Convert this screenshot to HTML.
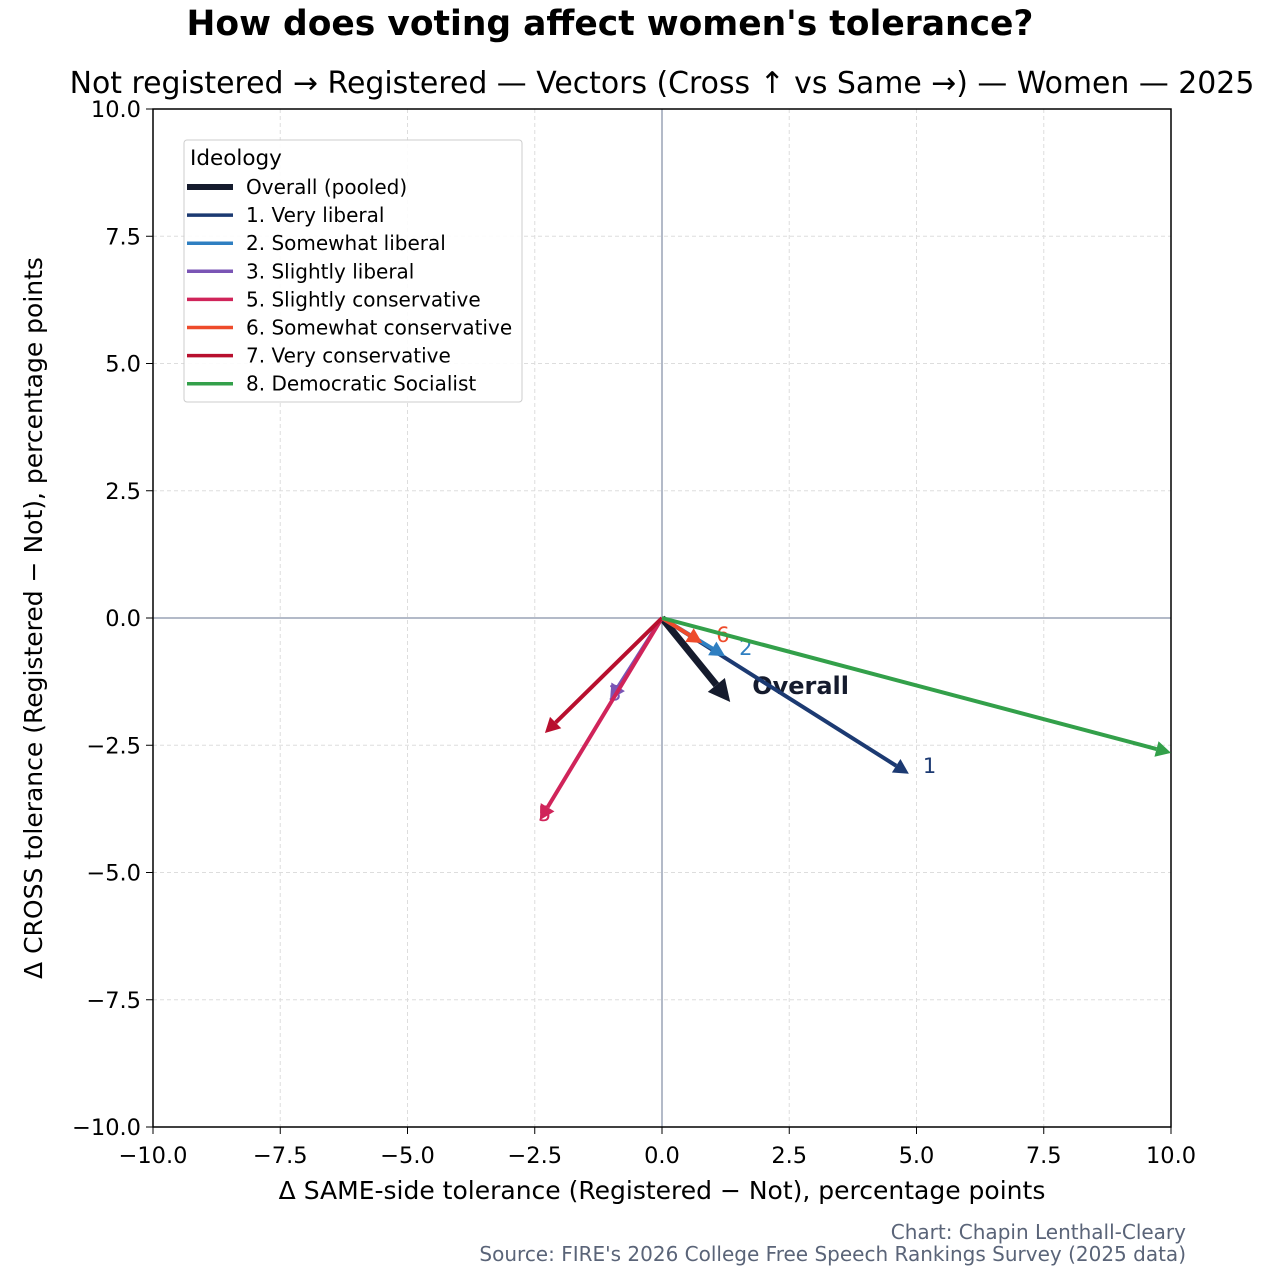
<!DOCTYPE html>
<html><head><meta charset="utf-8"><style>
body{margin:0;background:#fff;}
svg text{font-family:"DejaVu Sans","Liberation Sans",sans-serif;}
</style></head><body>
<svg id="c" width="1262" height="1278" xmlns="http://www.w3.org/2000/svg">
<text x="610" y="35" text-anchor="middle" font-size="34.5" font-weight="bold" fill="#000">How does voting affect women's tolerance?</text>
<text x="662" y="93" text-anchor="middle" font-size="29.9" fill="#000">Not registered → Registered — Vectors (Cross ↑ vs Same →) — Women — 2025</text>
<g id="grid"></g><g id="axes"></g><g id="marks"></g><g id="legend"></g>
<text x="662" y="1199" text-anchor="middle" font-size="25">Δ SAME-side tolerance (Registered − Not), percentage points</text>
<text transform="translate(42,618) rotate(-90)" text-anchor="middle" font-size="25">Δ CROSS tolerance (Registered − Not), percentage points</text>
<text x="1186" y="1239" text-anchor="end" font-size="20" fill="#5a6478">Chart: Chapin Lenthall-Cleary</text>
<text x="1186" y="1261" text-anchor="end" font-size="20" fill="#5a6478">Source: FIRE's 2026 College Free Speech Rankings Survey (2025 data)</text>
</svg>
<script>
const names=["Overall (pooled)","1. Very liberal","2. Somewhat liberal","3. Slightly liberal","5. Slightly conservative","6. Somewhat conservative","7. Very conservative","8. Democratic Socialist"];
const labels=["Overall","1","2","3","5","6","7","8"];
const dx=[1.34,4.85,1.24,-1.02,-2.4,0.79,-2.3,10.0];
const dy=[-1.65,-3.06,-0.75,-1.6,-3.97,-0.49,-2.26,-2.65];
const colors=["#151b2d","#1c3a72","#2f7fc1","#7a55b5","#d0245a","#ee4b2b","#b80f2e","#33a04a"];
const ticks=[-10,-7.5,-5,-2.5,0,2.5,5,7.5,10];
const ns="http://www.w3.org/2000/svg";
const L=153,R=1171,T=109,B=1127;
const X=v=>L+(v+10)/20*(R-L), Y=v=>B-(v+10)/20*(B-T);
function mk(p,t,a){const e=document.createElementNS(ns,t);for(const k in a)e.setAttribute(k,a[k]);p.appendChild(e);return e;}
const g=document.getElementById('grid'),ax=document.getElementById('axes'),m=document.getElementById('marks'),lg=document.getElementById('legend');
ticks.forEach(t=>{
 let l=mk(g,'line',{x1:X(t),x2:X(t),y1:T,y2:B,stroke:'#ddd','stroke-dasharray':'4,3'});
 
 l=mk(g,'line',{x1:L,x2:R,y1:Y(t),y2:Y(t),stroke:'#ddd','stroke-dasharray':'4,3'});
 
 let s=t.toFixed(1).replace('-','−');
 let tx=mk(ax,'text',{x:X(t),y:B+36,'text-anchor':'middle','font-size':22.5});tx.textContent=s;
 
 mk(ax,'line',{x1:X(t),x2:X(t),y1:B,y2:B+7,stroke:'#000'});
 tx=mk(ax,'text',{x:L-12,y:Y(t)+8,'text-anchor':'end','font-size':22.5});tx.textContent=s;
 
 mk(ax,'line',{x1:L-7,x2:L,y1:Y(t),y2:Y(t),stroke:'#000'});
});
let z=mk(ax,'line',{x1:X(0),x2:X(0),y1:T,y2:B,stroke:'#9aa3b5','stroke-width':1.5});

z=mk(ax,'line',{x1:L,x2:R,y1:Y(0),y2:Y(0),stroke:'#9aa3b5','stroke-width':1.5});

const fr=mk(ax,'rect',{x:L,y:T,width:R-L,height:B-T,fill:'none',stroke:'#000','stroke-width':1.5});

names.forEach((n,i)=>{
 const x0=X(0),y0=Y(0),x1=X(dx[i]),y1=Y(dy[i]);
 const w=i==0?7:4, hl=i==0?22:15, hw=i==0?11:8;
 const len=Math.hypot(x1-x0,y1-y0),ux=(x1-x0)/len,uy=(y1-y0)/len;
 const bx=x1-ux*hl,by=y1-uy*hl;
 const gr=mk(m,'g',{});
 
 mk(gr,'line',{x1:x0,y1:y0,x2:bx,y2:by,stroke:colors[i],'stroke-width':w});
 mk(gr,'polygon',{points:`${x1},${y1} ${bx-uy*hw},${by+ux*hw} ${bx+uy*hw},${by-ux*hw}`,fill:colors[i]});
 if(i<7&&i!=6){
  let lx,ly,fs=21,fw='normal';
  if(i==0){lx=x1+22;ly=y1-15;fs=24;fw='bold';}
  else if(i==3||i==4){lx=x1-2;ly=y1-6;}
  else {lx=x1+14;ly=y1-8;}
  const t=mk(gr,'text',{x:lx,y:ly+7,'font-size':fs,'font-weight':fw,fill:colors[i]});t.textContent=labels[i];
  
 }
});
const lb=mk(lg,'rect',{x:184,y:140,width:338,height:262,fill:'#fff',stroke:'#ccc',rx:3,'fill-opacity':0.9});

let tt=mk(lg,'text',{x:190,y:165,'font-size':21.5});tt.textContent='Ideology';

names.forEach((n,i)=>{
 const y=187+i*28.1;
 const e=mk(lg,'g',{});
 
 mk(e,'line',{x1:187,x2:233,y1:y,y2:y,stroke:colors[i],'stroke-width':i==0?6:3.5});
 const t=mk(e,'text',{x:246,y:y+7,'font-size':20});t.textContent=n;
});
</script>
</body></html>
